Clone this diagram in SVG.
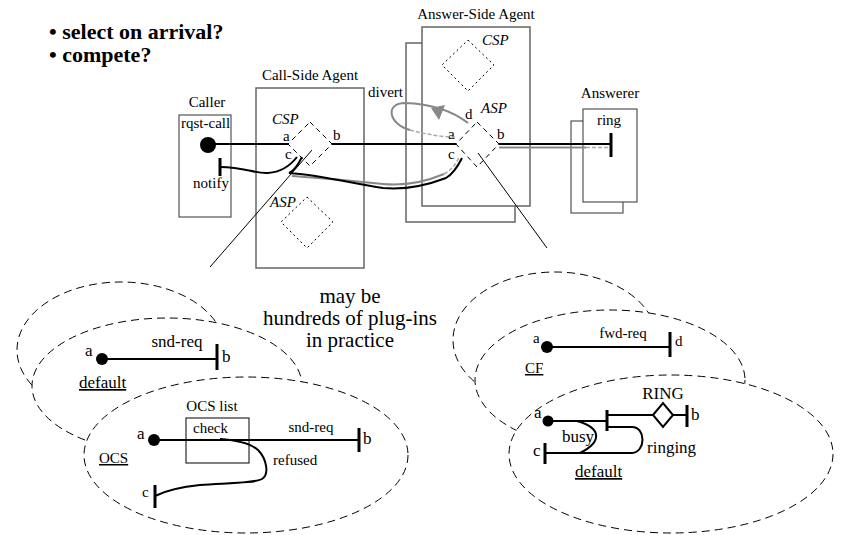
<svg xmlns="http://www.w3.org/2000/svg" width="846" height="535" viewBox="0 0 846 535">
<style>
text{font-family:"Liberation Serif","Times New Roman",serif;font-size:15px;fill:#000}
.b{font-weight:bold;font-size:22px}
.i{font-style:italic}
.l{font-size:17px}
.big{font-family:"Liberation Serif","Times New Roman",serif;font-size:21px}
.u{text-decoration:underline}
.box{fill:#fff;stroke:#666;stroke-width:1.5}
.box2{fill:#fff;stroke:#333;stroke-width:1}
.dash{fill:#fff;stroke:#000;stroke-width:1;stroke-dasharray:5 4}
.dot{fill:none;stroke:#000;stroke-width:1;stroke-dasharray:2 3}
.ell{fill:#fff;stroke:#000;stroke-width:1;stroke-dasharray:8 5}
.w{fill:none;stroke:#000;stroke-width:2}
.g{fill:none;stroke:#888;stroke-width:2}
.gd{fill:none;stroke:#aaa;stroke-width:1.5;stroke-dasharray:4 2}
.bar{stroke:#000;stroke-width:3}
.thin{stroke:#000;stroke-width:1;fill:none}
</style>
<rect width="846" height="535" fill="#fff"/>

<g id="questions">
<text x="49" y="39" class="b">• select on arrival?</text>
<text x="49" y="62" class="b">• compete?</text>
</g>

<g id="caller">
<rect x="179" y="115" width="52" height="102" class="box2"/>
<text x="207" y="107" text-anchor="middle">Caller</text>
<text x="181" y="128">rqst-call</text>
<circle cx="208" cy="145" r="8"/>
<line x1="220" y1="158" x2="220" y2="176" class="bar"/>
<text x="211" y="188" text-anchor="middle">notify</text>
</g>

<g id="call-side-agent">
<rect x="256" y="88" width="108" height="180" class="box"/>
<text x="310" y="80" text-anchor="middle">Call-Side Agent</text>
<path d="M310,122 L332,144 L310,166 L288,144 Z" class="dash"/>
<text x="272" y="124" class="i">CSP</text>
<text x="283" y="141">a</text>
<text x="333" y="140">b</text>
<text x="285" y="159">c</text>
<path d="M307,197 L333,222 L307,248 L281,222 Z" class="dot"/>
<text x="270" y="207" class="i">ASP</text>
</g>

<g id="answer-side-agent">
<rect x="406" y="43" width="109" height="179" class="box"/>
<rect x="422" y="27" width="108" height="179" class="box"/>
<text x="476" y="19" text-anchor="middle">Answer-Side Agent</text>
<path d="M468,40 L494,65 L468,91 L442,65 Z" class="dot"/>
<text x="482" y="45" class="i">CSP</text>
<path d="M477,122 L499,144 L477,167 L456,144 Z" class="dash"/>
<text x="481" y="113" class="i">ASP</text>
<text x="465" y="119">d</text>
<text x="448" y="139">a</text>
<text x="497" y="139">b</text>
<text x="448" y="159">c</text>
</g>

<g id="answerer">
<rect x="571" y="121" width="52" height="92" class="box2"/>
<rect x="583" y="109" width="54" height="93" class="box2"/>
<text x="610" y="98" text-anchor="middle">Answerer</text>
<text x="609" y="125" text-anchor="middle">ring</text>
<line x1="611" y1="133" x2="611" y2="157" class="bar"/>
</g>

<g id="connectors">
<line x1="208" y1="144" x2="288" y2="144" class="w"/>
<line x1="332" y1="144" x2="456" y2="144" class="w"/>
<line x1="499" y1="144" x2="611" y2="144" class="w"/>
<line x1="499" y1="147.5" x2="586" y2="147.5" class="g"/>
<line x1="586" y1="147.5" x2="609" y2="147.5" class="gd"/>
<path d="M220,167 C245,167 255,174 268,173 C282,172 290,166 297,157" class="w"/>
<path d="M292,176 C320,178 345,180 383,184 C405,186 425,182 444,174" class="g"/>
<path d="M444,174 C451,170 456,165 459,157" class="gd"/>
<path d="M302,157 Q295,171 289,173 C320,175 350,183 383,188 C405,190 425,186 446,178 C453,174 458,166 462,158" class="w"/>
<path d="M468,123 C455,113 435,104 405,103 C385,103 388,124 410,130" class="g"/>
<path d="M410,130 C425,134 440,137 455,137" class="gd"/>
<path d="M431,108 L445,105 L439,120 Z" fill="#888"/>
<text x="368" y="97">divert</text>
<line x1="210" y1="267" x2="312" y2="150" class="thin"/>
<line x1="478" y1="153" x2="547" y2="248" class="thin"/>
</g>

<g id="left-plugins">
<ellipse cx="121" cy="350" rx="104" ry="68" class="ell"/>
<g id="default-left">
<ellipse cx="167" cy="386" rx="135" ry="68" class="ell"/>
<circle cx="102" cy="359" r="6"/>
<text x="85" y="356" class="l">a</text>
<line x1="102" y1="359" x2="217" y2="359" class="w"/>
<line x1="217" y1="344" x2="217" y2="370" class="bar"/>
<text x="222" y="362" class="l">b</text>
<text x="177" y="347" class="l" text-anchor="middle">snd-req</text>
<text x="79" y="388" class="l u">default</text>
</g>
<g id="ocs">
<ellipse cx="246" cy="455" rx="162" ry="78" class="ell"/>
<circle cx="154" cy="440" r="6"/>
<text x="137" y="439" class="l">a</text>
<line x1="154" y1="440" x2="359" y2="440" class="w"/>
<line x1="359" y1="428" x2="359" y2="452" class="bar"/>
<text x="363" y="444" class="l">b</text>
<text x="311" y="432" text-anchor="middle">snd-req</text>
<rect x="186" y="418" width="63" height="45" fill="none" stroke="#000" stroke-width="1"/>
<text x="212" y="411" text-anchor="middle">OCS list</text>
<text x="193" y="433">check</text>
<text x="99" y="463" class="u">OCS</text>
<path d="M220,439 C235,440 250,443 258,450 C266,458 270,474 262,479 C255,483 230,483 200,485 C180,487 165,491 155,496" class="w"/>
<line x1="155" y1="485" x2="155" y2="508" class="bar"/>
<text x="142" y="497">c</text>
<text x="273" y="465">refused</text>
</g>
</g>

<g id="right-plugins">
<ellipse cx="555" cy="340" rx="102" ry="68" class="ell"/>
<g id="cf">
<ellipse cx="610" cy="380" rx="135" ry="70" class="ell"/>
<circle cx="547" cy="347" r="6"/>
<text x="533" y="343">a</text>
<line x1="547" y1="347" x2="670" y2="347" class="w"/>
<line x1="670" y1="332" x2="670" y2="357" class="bar"/>
<text x="675" y="346">d</text>
<text x="623" y="338" text-anchor="middle">fwd-req</text>
<text x="525" y="373" class="u">CF</text>
</g>
<g id="default-right">
<ellipse cx="671" cy="454" rx="162" ry="79" class="ell"/>
<circle cx="548" cy="421" r="5.5"/>
<text x="534" y="418" class="l">a</text>
<line x1="548" y1="421" x2="607" y2="421" class="w"/>
<line x1="607" y1="410" x2="607" y2="431" class="bar"/>
<line x1="607" y1="415" x2="653" y2="415" class="w"/>
<path d="M653,415 L663,403 L673,415 L663,427 Z" fill="#fff" stroke="#000" stroke-width="2"/>
<line x1="673" y1="415" x2="687" y2="415" class="w"/>
<line x1="687" y1="405" x2="687" y2="427" class="bar"/>
<text x="691" y="420" class="l">b</text>
<text x="663" y="399" class="l" text-anchor="middle">RING</text>
<path d="M577,421 C602,428 602,442 580,453" class="w"/>
<path d="M607,427 L632,427 C646,427 646,452 632,453 L545,453" class="w"/>
<line x1="545" y1="443" x2="545" y2="464" class="bar"/>
<text x="533" y="456" class="l">c</text>
<text x="562" y="442" class="l">busy</text>
<text x="647" y="453" class="l">ringing</text>
<text x="575" y="477" class="l u">default</text>
</g>
</g>

<g id="note">
<text x="350" y="303" class="big" text-anchor="middle">may be</text>
<text x="350" y="325" class="big" text-anchor="middle">hundreds of plug-ins</text>
<text x="350" y="347" class="big" text-anchor="middle">in practice</text>
</g>
</svg>
